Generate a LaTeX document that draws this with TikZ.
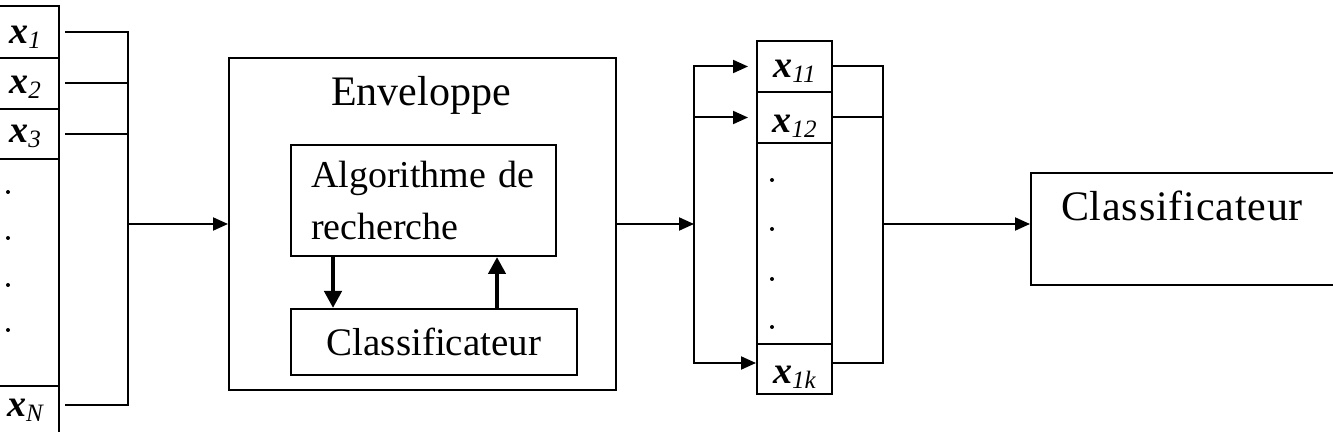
\documentclass[tikz,border=0pt]{standalone}
\usepackage{fontspec}
\setmainfont{Liberation Serif}
\usetikzlibrary{arrows.meta}
% feature label: bold italic x with an italic index
\newcommand{\featx}[1]{{\bfseries\itshape x}\raisebox{-2.5pt}{\fontsize{12.5}{12.5}\selectfont\itshape #1}}

\begin{document}
\begin{tikzpicture}[x=0.5pt,y=-0.5pt,
  line width=1pt,
  box/.style={draw, line width=1pt, inner sep=0pt, anchor=north west},
  cell/.style={box, minimum width=#1, font=\fontsize{19}{19}\selectfont, text depth=0pt},
  arr/.style={line width=1pt, -{Triangle[length=7.5pt,width=6.5pt]}},
  bigarr/.style={line width=2.2pt, -{Triangle[length=8.5pt,width=8.5pt]}},
]
\useasboundingbox (0,0) rectangle (1333,432);

% ---- input features (column on the left)
\node[cell=34pt, minimum height=26pt,   text height=12pt]   (c1) at (-10,5)   {\featx{1}};
\node[cell=34pt, minimum height=25.5pt, text height=10.5pt] (c2) at (-10,57)  {\featx{2}};
\node[cell=34pt, minimum height=25pt,   text height=9pt]    (c3) at (-10,108) {\featx{3}};
\node[cell=34pt, minimum height=113.5pt] (cd) at (-10,158) {};
\node[cell=34pt, minimum height=25pt,   text height=5pt]    (cN) at (-10,385) {\featx{N}};
\foreach \y in {192,238,285,330} \fill (8,\y) circle (1pt);

% ---- wrapper
\node[box, minimum width=193.5pt, minimum height=166pt] (env) at (228,57) {};
\node[font=\fontsize{21}{21}\selectfont] (envlabel) at (421,95) {Enveloppe};
\node[box, minimum width=132.5pt, minimum height=55.5pt, align=left, text width=112.5pt,
      font=\fontsize{19}{26}\selectfont] (algo) at (290,144) {Algorithme de\\recherche};
\node[box, minimum width=143pt, minimum height=33pt, font=\fontsize{19.5}{19.5}\selectfont]
      (cls) at (290,308) {Classificateur};
\coordinate (dn) at ([xshift=21.5pt]algo.south west);
\coordinate (upx) at ([xshift=103.5pt]algo.south west);
\draw[bigarr] (dn) -- (dn |- cls.north);
\draw[bigarr] (upx |- cls.north) -- (upx);

% ---- selected features (column on the right)
\node[cell=37.5pt, minimum height=25.5pt, text height=11.5pt] (r1) at (756,40)  {\featx{11}};
\node[cell=37.5pt, minimum height=25.5pt, text height=15.5pt] (r2) at (756,91)  {\featx{12}};
\node[cell=37.5pt, minimum height=100.5pt] (rd) at (756,142) {};
\node[cell=37.5pt, minimum height=25pt,   text height=15pt]   (rk) at (756,343) {\featx{1k}};
\foreach \y in {180,229,279,327} \fill (772,\y) circle (1pt);

% ---- final classifier
\node[box, minimum width=157.5pt, minimum height=56pt] (cf) at (1030,172) {};
\node[font=\fontsize{21}{21}\selectfont\addfontfeature{LetterSpace=2}] (cflabel) at (1182,206) {Classificateur};

% ---- junction points of the buses
\coordinate (lj) at (128,224);
\coordinate (sp) at (694,224);
\coordinate (rj) at (883,224);

% left bus
\draw ([xshift=2.5pt]c1.east) -| (lj);
\draw ([xshift=2.5pt]c2.east) -- (c2.east -| lj);
\draw ([xshift=2.5pt]c3.east) -- (c3.east -| lj);
\draw ([xshift=2.5pt,yshift=-10pt]cN.north east) -| (lj);
\draw[arr] (lj) -- (lj -| env.west);

% split towards the selected features
\draw[arr] (env.east) -- (sp);
\draw[arr] (sp) |- ([xshift=-4pt]r1.west);
\draw[arr] (sp) |- ([xshift=-4pt]r2.west);
\draw[arr] (sp) |- ([yshift=-10pt]rk.north west);

% right bus
\draw (r1.east) -| (rj);
\draw (r2.east) -- (r2.east -| rj);
\draw ([yshift=-10pt]rk.north east) -| (rj);
\draw[arr] (rj) -- (rj -| cf.west);
\end{tikzpicture}
\end{document}
